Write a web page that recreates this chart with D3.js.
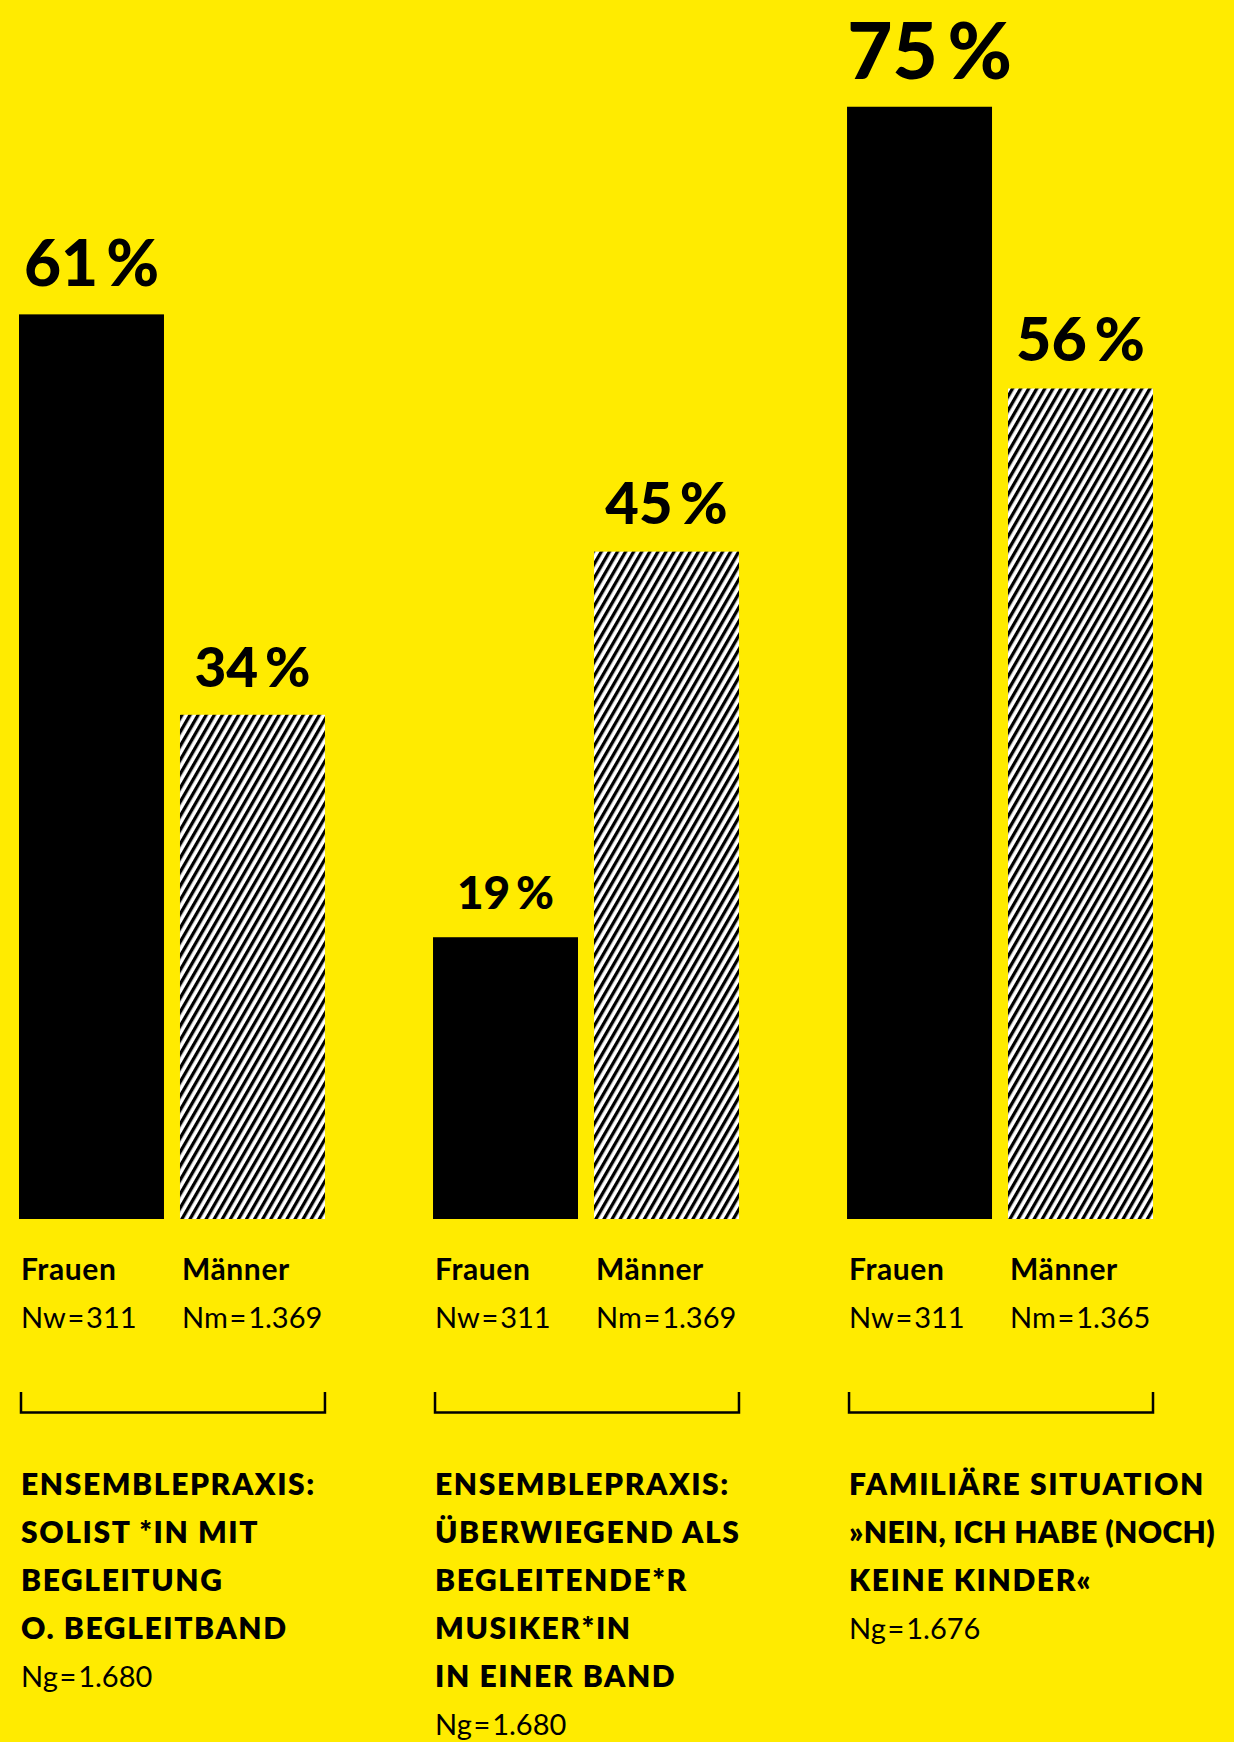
<!DOCTYPE html>
<html><head><meta charset="utf-8">
<script src="https://cdn.jsdelivr.net/npm/d3@7"></script>
<style>
html,body{margin:0;padding:0;background:#FFEB00;}
svg{display:block;}
text{font-family:Lato,"Noto Sans",sans-serif;fill:#000;}
</style></head><body>
<svg id="chart" width="1234" height="1742"></svg>
<script>
// ---- data ----
const groups = ["g1","g2","g3"];
const titles = [
  ["ENSEMBLEPRAXIS:","SOLIST *IN MIT","BEGLEITUNG","O. BEGLEITBAND"],
  ["ENSEMBLEPRAXIS:","ÜBERWIEGEND ALS","BEGLEITENDE*R","MUSIKER*IN","IN EINER BAND"],
  ["FAMILIÄRE SITUATION","»NEIN, ICH HABE (NOCH)","KEINE KINDER«"]
];
const totals = ["Ng\u200A=\u200A1.680","Ng\u200A=\u200A1.680","Ng\u200A=\u200A1.676"];
const series = ["Frauen","Männer"];
const frauenValues = [61,19,75];
const maennerValues = [34,45,56];
const frauenN = ["Nw\u200A=\u200A311","Nw\u200A=\u200A311","Nw\u200A=\u200A311"];
const maennerN = ["Nm\u200A=\u200A1.369","Nm\u200A=\u200A1.369","Nm\u200A=\u200A1.365"];

// ---- styles ----
const labelSizes = {g1:[64,55], g2:[46,58], g3:[78,61]};
const labelDx = {g1:[0,0], g2:[0,0], g3:[10,0]};

const svg = d3.select("#chart");
const W = 1234;
const defs = svg.append("defs");
const pat = defs.append("pattern").attr("id","hatch").attr("patternUnits","userSpaceOnUse")
  .attr("width",7).attr("height",20).attr("patternTransform","rotate(30)");
pat.append("rect").attr("width",7).attr("height",20).attr("fill","#fff");
pat.append("rect").attr("width",3.3).attr("height",20).attr("fill","#000");

const baseY = 1219;
const x0 = d3.scaleBand().domain(groups).range([19,1153]).paddingInner(0.261).paddingOuter(0);
const x1 = d3.scaleBand().domain(series).range([0,x0.bandwidth()]).paddingInner(0.0994).paddingOuter(0);
const y = d3.scaleLinear().domain([0,100]).range([baseY, baseY-1483]);

const data = groups.map((g,i)=>({g, i, vals:[
  {s:"Frauen", v:frauenValues[i], n:frauenN[i]},
  {s:"Männer", v:maennerValues[i], n:maennerN[i]}
]}));

const gg = svg.selectAll("g.grp").data(data).join("g").attr("class","grp")
  .attr("transform",d=>`translate(${x0(d.g)},0)`);

gg.each(function(d){
  const g = d3.select(this);
  d.vals.forEach((b,j)=>{
    g.append("rect").attr("x",x1(b.s)).attr("y",y(b.v)).attr("width",x1.bandwidth())
      .attr("height",y(0)-y(b.v)).attr("fill", j===0 ? "#000" : "url(#hatch)");
    g.append("text").attr("x",x1(b.s)+x1.bandwidth()/2+labelDx[d.g][j]).attr("y",y(b.v)-28)
      .attr("text-anchor","middle").attr("font-weight",900)
      .attr("font-size",labelSizes[d.g][j]).text(b.v+"\u2009%");
    g.append("text").attr("x",x1(b.s)+2).attr("y",1280).attr("font-weight",700)
      .attr("font-size",30).attr("letter-spacing",0.6).text(b.s);
    g.append("text").attr("x",x1(b.s)+2).attr("y",1328).attr("font-weight",400)
      .attr("font-size",29).text(b.n);
  });
  // bracket
  const w = x0.bandwidth();
  g.append("path").attr("d",`M2,1392V1412.5H${w}V1392`).attr("fill","none")
    .attr("stroke","#000").attr("stroke-width",2.5);
  const avail = W - x0(d.g) - 6;
  titles[d.i].forEach((line,k)=>{
    const t = g.append("text").attr("x",2).attr("y",1495+48*k).attr("font-weight",800)
      .attr("font-size",30).attr("letter-spacing",1.6).text(line);
    const len = t.node().getComputedTextLength();
    if (len > avail) {
      t.attr("letter-spacing",0.4);
      const len2 = t.node().getComputedTextLength();
      if (len2 > avail) t.attr("textLength",avail).attr("lengthAdjust","spacingAndGlyphs");
    }
  });
  g.append("text").attr("x",2).attr("y",1495+48*titles[d.i].length).attr("font-weight",400)
    .attr("font-size",29).text(totals[d.i]);
});
</script></body></html>
